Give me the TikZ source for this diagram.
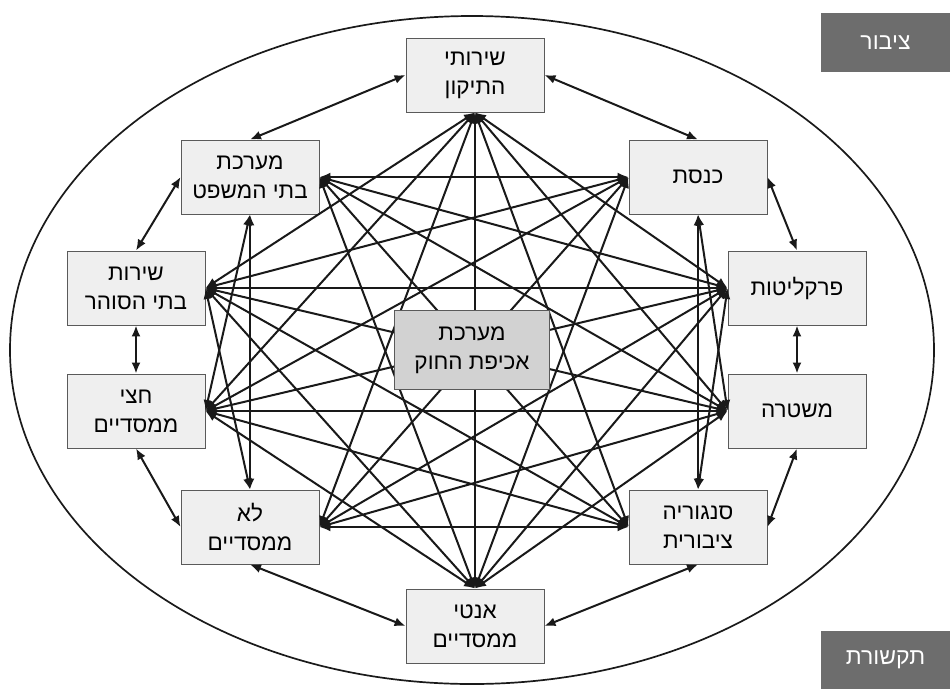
\documentclass[tikz,border=0pt]{standalone}
\usepackage{fontspec}
\usepackage{xcolor}
\usepackage{tikz}
\usetikzlibrary{arrows.meta}
\TeXXeTstate=1
\newfontfamily\hebfont[Script=Hebrew]{Liberation Sans}
\newfontfamily\hebsans[Script=Hebrew]{Liberation Sans}
\newcommand{\heb}[1]{\beginR #1\endR}
\definecolor{BOX_FILL}{HTML}{EFEFEF}
\definecolor{BOX_EDGE}{HTML}{5A5A5A}
\definecolor{CORE_FILL}{HTML}{D2D2D2}
\definecolor{TAG_FILL}{HTML}{6D6D6D}
\definecolor{RING_EDGE}{HTML}{1A1A1A}
\tikzset{
  agency/.style={
    rectangle, minimum width=138pt, minimum height=74pt, inner sep=0pt,
    text centered, align=center,
    draw=BOX_EDGE, fill=BOX_FILL, line width=0.9pt,
    font=\hebfont\fontsize{22.5}{29}\selectfont},
  core/.style={
    agency, minimum width=155pt, minimum height=79pt, fill=CORE_FILL},
  tag/.style={
    rectangle, minimum width=129pt, minimum height=59pt, inner sep=0pt,
    fill=TAG_FILL, text=white, font=\hebsans\fontsize{23}{27}\selectfont},
  arr/.style={{Latex[length=11pt,width=9pt]}-{Latex[length=11pt,width=9pt]},
    line width=2pt, color=black!90},
}
\begin{document}
\begin{tikzpicture}[x=1pt, y=-1pt]

  \useasboundingbox (0,0) rectangle (950,689);

  \draw[line width=1.7pt, color=RING_EDGE] (472,350) ellipse [x radius=462pt, y radius=334pt];

  \node[tag] (pub) at (885.5,42.5) {\heb{ציבור}};
  \node[tag, minimum height=58pt] (media) at (885.5,660) {\heb{תקשורת}};

  \node[agency] (T) at (475,75)  {\heb{שירותי}\\\heb{התיקון}};
  \node[agency] (K) at (698,177) {\heb{כנסת}};
  \node[agency] (P) at (797,288) {\heb{פרקליטות}};
  \node[agency] (M) at (797,411) {\heb{משטרה}};
  \node[agency] (S) at (698,527) {\heb{סנגוריה}\\\heb{ציבורית}};
  \node[agency] (A) at (475,626) {\heb{אנטי}\\\heb{ממסדיים}};
  \node[agency] (L) at (250,527) {\heb{לא}\\\heb{ממסדיים}};
  \node[agency] (H) at (136,411) {\heb{חצי}\\\heb{ממסדיים}};
  \node[agency] (B) at (136,288) {\heb{שירות}\\\heb{בתי הסוהר}};
  \node[agency] (C) at (250,177) {\heb{מערכת}\\\heb{בתי המשפט}};

  % outer ring
  \draw[arr] (T.east)  -- (K.north);
  \draw[arr] (K.east)  -- (P.north);
  \draw[arr] (P.south) -- (M.north);
  \draw[arr] (M.south) -- (S.east);
  \draw[arr] (S.south) -- (A.east);
  \draw[arr] (A.west)  -- (L.south);
  \draw[arr] (L.west)  -- (H.south);
  \draw[arr] (H.north) -- (B.south);
  \draw[arr] (B.north) -- (C.west);
  \draw[arr] (C.north) -- (T.west);

  % inner web
  \draw[arr] (T.south) -- (P.west);
  \draw[arr] (T.south) -- (M.west);
  \draw[arr] (T.south) -- (S.west);
  \draw[arr] (T.south) -- (A.north);
  \draw[arr] (T.south) -- (L.east);
  \draw[arr] (T.south) -- (H.east);
  \draw[arr] (T.south) -- (B.east);
  \draw[arr] (K.south) -- (M.west);
  \draw[arr] (K.south) -- (S.north);
  \draw[arr] (K.west)  -- (A.north);
  \draw[arr] (K.west)  -- (L.east);
  \draw[arr] (K.west)  -- (H.east);
  \draw[arr] (K.west)  -- (B.east);
  \draw[arr] (K.west)  -- (C.east);
  \draw[arr] (P.west)  -- (S.north);
  \draw[arr] (P.west)  -- (A.north);
  \draw[arr] (P.west)  -- (L.east);
  \draw[arr] (P.west)  -- (H.east);
  \draw[arr] (P.west)  -- (B.east);
  \draw[arr] (P.west)  -- (C.east);
  \draw[arr] (M.west)  -- (A.north);
  \draw[arr] (M.west)  -- (L.east);
  \draw[arr] (M.west)  -- (H.east);
  \draw[arr] (M.west)  -- (B.east);
  \draw[arr] (M.west)  -- (C.east);
  \draw[arr] (S.west)  -- (L.east);
  \draw[arr] (S.west)  -- (H.east);
  \draw[arr] (S.west)  -- (B.east);
  \draw[arr] (S.west)  -- (C.east);
  \draw[arr] (A.north) -- (H.east);
  \draw[arr] (A.north) -- (B.east);
  \draw[arr] (A.north) -- (C.east);
  \draw[arr] (L.north) -- (B.east);
  \draw[arr] (L.north) -- (C.south);
  \draw[arr] (H.east)  -- (C.south);

  \node[core] (core) at (472,350) {\heb{מערכת}\\\heb{אכיפת החוק}};

\end{tikzpicture}
\end{document}
